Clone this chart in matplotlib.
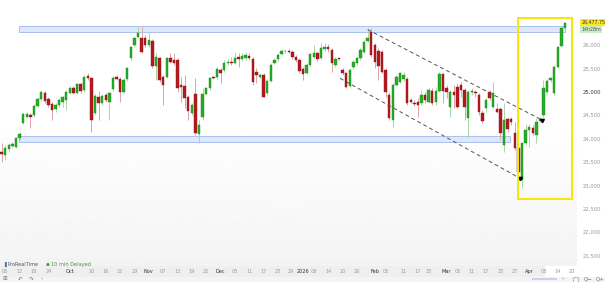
import numpy as np
import matplotlib
matplotlib.use("Agg")
import matplotlib.pyplot as plt
from matplotlib.patches import Rectangle

# ---------------- data (daily OHLC) ----------------
opens = [23722, 23650, 23771, 23843, 23828, 24006, 24341, 24469, 24505, 24505,
         24697, 24839, 24982, 24839, 24740, 24626, 24718, 24790, 24825, 24982,
         25089, 24982, 25167, 25039, 25345, 25288, 24540, 24896, 24754, 24932,
         24790, 25053, 25324, 25274, 25003, 25267, 25715, 26000, 26178, 26142,
         26142, 26000, 26093, 25559, 25715, 25309, 25309, 25715, 25680, 25680,
         25146, 25124, 24882, 24540, 24953, 24099,
         24469, 24953, 25074, 25309, 25309, 25466, 25466, 25608, 25644, 25623,
         25737, 25694, 25715, 25765, 25694, 25430, 25324, 25359, 24968, 25238,
         25623, 25694, 25808, 25879, 25872, 25858, 25737, 25680, 25480, 25409,
         25573, 25751, 25822, 25715, 25907, 25950, 25893, 25573, 25715, 25466,
         25395, 25124, 25523, 25608, 25715, 25858, 26093, 26285, 26000, 25879,
         25858, 25466, 24932, 24398, 25146, 25217,
         25267, 25267, 24825, 24768, 24790, 24754, 24932, 24790, 25025, 24790,
         25025, 25381, 25074, 24683, 25003, 25110, 25146, 25039, 24434, 24989,
         25003, 24932, 24555, 24647, 25003, 24683, 24626, 24626, 23864, 24412,
         24412, 24113, 23793, 23116, 23900, 24184, 24220, 24078, 24384, 24505,
         25003, 25252, 24968, 25537, 25979, 26356]
highs = [23900, 23864, 23914, 23935, 24042, 24149, 24555, 24576, 24540, 24740,
         24896, 25025, 25025, 24882, 24790, 24754, 24861, 24911, 25039, 25124,
         25124, 25195, 25195, 25359, 25395, 25324, 24953, 25025, 24953, 24968,
         25003, 25338, 25359, 25309, 25288, 25537, 25979, 26178, 26392, 26392,
         26214, 26249, 26121, 25822, 25751, 25359, 25751, 25822, 25822, 25715,
         25324, 25359, 24932, 24754, 25288, 24398,
         25074, 25110, 25324, 25338, 25537, 25502, 25680, 25694, 25751, 25858,
         25822, 25822, 25858, 25822, 25737, 25502, 25395, 25395, 25267, 25608,
         25715, 25822, 25907, 25893, 25907, 25893, 25786, 25715, 25537, 25608,
         25836, 26000, 25858, 26036, 26036, 26021, 25929, 25737, 25729, 25502,
         25430, 25502, 25680, 25751, 25929, 26107, 26356, 26356, 26036, 25929,
         25893, 25502, 25003, 25181, 25359, 25430,
         25430, 25324, 24861, 24825, 24861, 25039, 25003, 25074, 25074, 25110,
         25430, 25409, 25146, 25039, 25146, 25181, 25217, 25074, 25039, 25074,
         25039, 24968, 24612, 24861, 25039, 25217, 24754, 24669, 24754, 24469,
         24469, 24362, 23828, 23935, 24313, 24313, 24291, 24434, 24469, 25252,
         25267, 25324, 25573, 25979, 26392, 26498]
lows = [23508, 23544, 23722, 23793, 23793, 23971, 24313, 24434, 24220, 24469,
        24669, 24811, 24768, 24669, 24398, 24576, 24683, 24669, 24612, 24953,
        24953, 24953, 24982, 25003, 25252, 24149, 24505, 24398, 24718, 24790,
        24398, 25025, 25252, 24790, 24968, 25238, 25680, 25964, 26142, 25822,
        25964, 25964, 25502, 25252, 25217, 24718, 25288, 25608, 25573, 25003,
        24790, 24647, 24398, 24505, 24078, 23900,
        24398, 24932, 25039, 25267, 25281, 25181, 25430, 25573, 25573, 25594,
        25537, 25665, 25680, 25680, 25146, 25181, 25288, 24882, 24932, 25217,
        25594, 25665, 25786, 25836, 25822, 25694, 25644, 25409, 25252, 25381,
        25537, 25715, 25665, 25680, 25879, 25858, 25430, 25537, 25680, 25359,
        25074, 25110, 25480, 25573, 25680, 25822, 26071, 25751, 25502, 25252,
        25395, 24896, 24398, 24241, 25124, 25181,
        25238, 24718, 24754, 24697, 24469, 24718, 24754, 24754, 24718, 24718,
        25003, 24754, 24861, 24469, 24647, 24647, 24896, 24398, 24006, 24932,
        24896, 24505, 24327, 24576, 24825, 24647, 24540, 23971, 23722, 24149,
        24291, 23757, 23223, 22938, 23864, 23828, 24078, 23900, 24362, 24469,
        24968, 25217, 24932, 25502, 25950, 26335]
closes = [23672, 23793, 23864, 23885, 24006, 24092, 24526, 24519, 24455, 24697,
          24854, 25003, 24804, 24718, 24612, 24718, 24825, 24882, 25003, 25089,
          24982, 25167, 25017, 25324, 25288, 24398, 24911, 24754, 24911, 24825,
          24968, 25302, 25281, 25003, 25252, 25502, 25950, 26142, 26263, 25858,
          26000, 26107, 25559, 25737, 25252, 25146, 25715, 25644, 25623, 25074,
          25096, 24861, 24597, 24718, 24113, 24291,
          24953, 25074, 25288, 25288, 25480, 25395, 25623, 25644, 25608, 25715,
          25694, 25765, 25786, 25715, 25217, 25359, 25359, 24896, 25238, 25573,
          25680, 25786, 25879, 25865, 25858, 25737, 25680, 25452, 25381, 25573,
          25808, 25822, 25694, 25929, 25950, 25907, 25608, 25694, 25701, 25395,
          25110, 25466, 25644, 25715, 25893, 26071, 26142, 25786, 25644, 25551,
          25430, 25003, 24434, 25146, 25324, 25395,
          25359, 24754, 24790, 24740, 24718, 24932, 24825, 25039, 24754, 25025,
          25381, 25025, 25003, 25003, 24932, 24683, 25039, 24669, 25003, 25010,
          24968, 24576, 24384, 24825, 24861, 24968, 24576, 24113, 24398, 24199,
          24362, 23793, 23294, 23900, 24184, 24241, 24113, 24362, 24412, 25074,
          25238, 25288, 25537, 25964, 26356, 26477.75]

last_price = 26477.75
countdown_label = "14h28m"

x_tick_idx = [1, 5, 9, 13, 19, 25, 29, 33, 37, 41, 45, 49, 53, 57, 61, 65, 69, 73,
              77, 80.6, 84, 87, 91, 95, 99, 104, 107, 112, 116, 119, 124, 127, 131,
              135, 139, 143, 147, 151, 155, 159]
x_tick_labels = ["06", "12", "18", "24", "Oct", "10", "16", "22", "29", "Nov",
                 "07", "13", "19", "25", "Dec", "05", "11", "17", "23", "29",
                 "2026", "08", "14", "20", "26", "Feb", "05", "11", "17", "23",
                 "Mar", "05", "11", "17", "23", "27", "Apr", "08", "14", "20"]
major_labels = {"Oct", "Nov", "Dec", "2026", "Feb", "Mar", "Apr"}

y_ticks = [21500, 22000, 22500, 23000, 23500, 24000, 24500, 25000, 25500, 26000]

# horizontal zones (support / resistance) : (low, high, first idx, last idx)
zone_low = [26280, 23925]
zone_high = [26405, 24055]
zone_start = [4.8, 4.8]
zone_end = [157.0, 141.7]

# dashed channel lines: (x0, y0, x1, y1)
chan_x0 = [102.0, 94.3]
chan_y0 = [26330, 25288]
chan_x1 = [150.5, 144.5]
chan_y1 = [24400, 23150]

# highlight box
box_x = [143.9, 158.9]
box_y = [22709, 26577]

# ---------------- figure ----------------
W, H = 605, 282
fig = plt.figure(figsize=(W / 100, H / 100), dpi=100)
fig.patch.set_facecolor("white")

ax_bottom_px = 266
ax_right_px = 577
ax = fig.add_axes([0, (H - ax_bottom_px) / H, ax_right_px / W, ax_bottom_px / H])

n = len(closes)
x = np.arange(n)
o = np.array(opens, float)
c = np.array(closes, float)
h = np.array(highs, float)
l = np.array(lows, float)
up = c >= o

ax.set_xlim(-0.47, 160.34)
ax.set_ylim(21277, 26962)

# background gradient
grad = np.ones((256, 1))
t = np.linspace(0, 1, 256)  # 0 = bottom, 1 = top
vals = np.where(t > 0.55, 1.0, 0.955 + (1.0 - 0.955) * (t / 0.55))
grad[:, 0] = vals
ax.imshow(grad, extent=[0, 1, 0, 1], transform=ax.transAxes, origin="lower",
          cmap="gray", vmin=0, vmax=1, aspect="auto", zorder=0)

# zones
for zl, zh, zs, ze in zip(zone_low, zone_high, zone_start, zone_end):
    ax.add_patch(Rectangle((zs, zl), ze - zs, zh - zl, facecolor="#dfe8fb",
                           edgecolor="#a9c0ee", linewidth=0.7, zorder=1))

# wicks
wick_col = np.where(up, "#a9d6a9", "#d9a6a6")
ax.vlines(x, l, h, colors=list(wick_col), linewidth=0.7, zorder=2)

# bodies
body_h = np.maximum(np.abs(c - o), 10)
body_b = np.minimum(o, c)
ax.bar(x[up], body_h[up], bottom=body_b[up], width=0.68, color="#27ad27",
       edgecolor="#178a17", linewidth=0.3, zorder=3)
ax.bar(x[~up], body_h[~up], bottom=body_b[~up], width=0.68, color="#b5191f",
       edgecolor="#8c1015", linewidth=0.3, zorder=3)

# channel lines
for a0, b0, a1, b1 in zip(chan_x0, chan_y0, chan_x1, chan_y1):
    ax.plot([a0, a1], [b0, b1], color="#555555", lw=0.7, ls=(0, (4, 3)), zorder=4)
    ax.plot([a1], [b1], marker=(3, 0, -60), color="black", ms=3.2, zorder=5)

# yellow highlight box
ax.add_patch(Rectangle((box_x[0], box_y[0]), box_x[1] - box_x[0], box_y[1] - box_y[0],
                       fill=False, edgecolor="#f7e600", linewidth=1.4, zorder=6))

# axes styling
for s in ax.spines.values():
    s.set_visible(False)
ax.yaxis.tick_right()
ax.set_yticks(y_ticks)
ax.set_yticklabels([f"{v:,}" for v in y_ticks])
ax.tick_params(axis="y", length=0, pad=4, labelsize=3.8, labelcolor="#9a9a9a")
for lab, v in zip(ax.get_yticklabels(), y_ticks):
    if v == 25000:
        lab.set_color("#333333")

ax.set_xticks(x_tick_idx)
ax.set_xticklabels(x_tick_labels)
ax.tick_params(axis="x", length=0, pad=2.2, labelsize=3.6, labelcolor="#9a9a9a")
for lab in ax.get_xticklabels():
    if lab.get_text() in major_labels:
        lab.set_color("#333333")

# last-price labels
ytr = ax.get_yaxis_transform()
ax.annotate(f"{last_price:,.2f}", xy=(1.0, last_price), xycoords=ytr,
            xytext=(3.2, 0), textcoords="offset points", ha="left", va="center",
            fontsize=3.4, color="#333333", annotation_clip=False,
            bbox=dict(boxstyle="square,pad=0.25", fc="#ffe81a", ec="none"))
ax.annotate(countdown_label, xy=(1.0, last_price), xycoords=ytr,
            xytext=(3.2, -4.7), textcoords="offset points", ha="left", va="center",
            fontsize=3.4, color="#555555", annotation_clip=False,
            bbox=dict(boxstyle="square,pad=0.25", fc="#c9ecc2", ec="none"))

# x-label strip & toolbar
fig.patches.append(Rectangle((0, (H - 277) / H), 545 / W, 11 / H, transform=fig.transFigure,
                             facecolor="#efefef", edgecolor="none", zorder=-1))
fig.patches.append(Rectangle((0, 0), 1, 5 / H, transform=fig.transFigure,
                             facecolor="#f4f4f4", edgecolor="none", zorder=-1))

# ProRealTime footer text
fig.text(2 / W, 1 - 264.5 / H, "\u2590", fontsize=3.5, color="#4a6fb5", va="center")
fig.text(8 / W, 1 - 264.5 / H, "ProRealTime", fontsize=3.6, color="#555555", va="center")
fig.text(46 / W, 1 - 264.5 / H, "\u25CF", fontsize=3.2, color="#3aa53a", va="center")
fig.text(51 / W, 1 - 264.5 / H, "10 min Delayed", fontsize=3.6, color="#3c9a3c", va="center")

# toolbar glyphs
ty = 1 - 279 / H
for gx, g in zip([5, 20, 31, 42], ["\u229E", "\u21B6", "\u21B7", "\u2039"]):
    fig.text(gx / W, ty, g, fontsize=4, color="#777777", ha="center", va="center")
fig.add_artist(plt.Line2D([533 / W, 556 / W], [ty, ty], transform=fig.transFigure,
                          color="#c7d3e6", lw=1.4))
# full-screen icon drawn as a small square outline
fig.patches.append(Rectangle((572.5 / W, ty - 2.5 / H), 5 / W, 5 / H, transform=fig.transFigure,
                             fill=False, edgecolor="#777777", linewidth=0.5, ls=(0, (1.5, 1))))
for gx, g in zip([563, 588, 600], ["\u203A", "Q\u2212", "Q+"]):
    fig.text(gx / W, ty, g, fontsize=4, color="#777777", ha="center", va="center")

fig.savefig("out.png", dpi=100)
